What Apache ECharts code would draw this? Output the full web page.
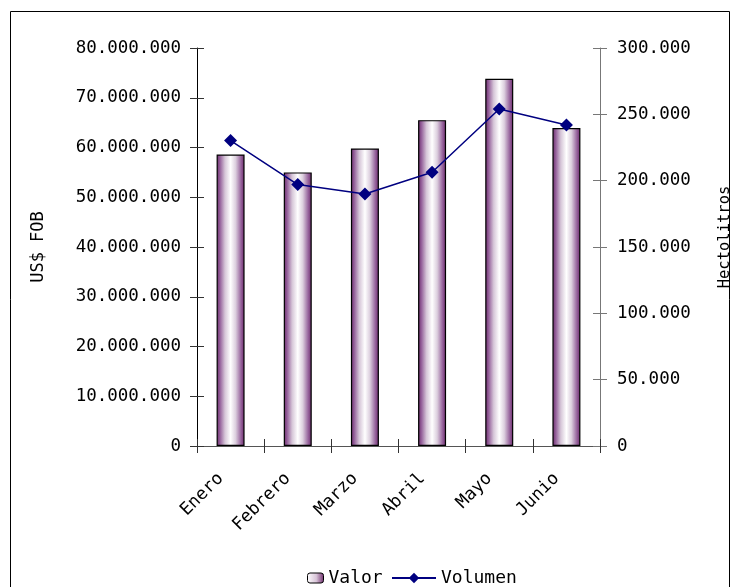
<!DOCTYPE html>
<html><head><meta charset="utf-8">
<script src="https://cdn.jsdelivr.net/npm/echarts@6/dist/echarts.min.js"></script>
<style>html,body{margin:0;padding:0;background:#fff}#c{width:734px;height:587px}</style>
</head><body><div id="c"></div>
<script>
var categories = ['Enero','Febrero','Marzo','Abril','Mayo','Junio'];
var valorUSD = [58600000, 55000000, 59800000, 65500000, 73800000, 63900000];
var volumenHl = [230200, 197100, 190000, 206400, 254000, 241900];
var leftTicks = {min:0, max:80000000, interval:10000000};
var rightTicks = {min:0, max:300000, interval:50000};

function fmt(v){ return String(v).replace(/\B(?=(\d{3})+(?!\d))/g,'.'); }
var FONT = 'DejaVu Sans Mono';
var chart = echarts.init(document.getElementById('c'));
var barGrad = new echarts.graphic.LinearGradient(0,0,1,0,[
  {offset:0,color:'#6a2868'},{offset:0.12,color:'#94609a'},{offset:0.3,color:'#d6c6d8'},{offset:0.5,color:'#ffffff'},
  {offset:0.68,color:'#dccfde'},{offset:0.88,color:'#94609a'},{offset:1,color:'#6a2868'}]);
var legGrad = new echarts.graphic.LinearGradient(0,0,1,0,[
  {offset:0,color:'#ffffff'},{offset:0.55,color:'#d8c4d8'},{offset:1,color:'#6a2868'}]);

chart.setOption({
  animation:false,
  textStyle:{fontFamily:FONT,color:'#000'},
  graphic:[{type:'rect',shape:{x:10.5,y:11.5,width:719,height:620},style:{fill:null,stroke:'#000',lineWidth:1},silent:true,z:-10}],
  grid:{left:197,right:134,top:48,bottom:141,outerBoundsMode:'none',containLabel:false},
  legend:[
    {left:302,top:564,itemWidth:16,itemHeight:10,itemGap:3,data:[{name:'Valor',itemStyle:{color:legGrad,borderColor:'#000',borderWidth:1}}],textStyle:{fontFamily:FONT,fontSize:18,color:'#000'}},
    {left:386,top:564,itemWidth:44,itemHeight:13,itemGap:3,data:['Volumen'],textStyle:{fontFamily:FONT,fontSize:18,color:'#000'}}
  ],
  xAxis:[
    {type:'category',data:categories,boundaryGap:true,
     axisLine:{lineStyle:{color:'#555',width:1}},
     axisTick:{show:true,length:7,lineStyle:{color:'#333'}},
     axisLabel:{rotate:45,fontFamily:FONT,fontSize:17.5,color:'#000',margin:20,padding:[0,14,0,0]},
     splitLine:{show:false}},
    {type:'category',data:categories,position:'bottom',boundaryGap:true,
     axisLine:{show:false},axisTick:{show:true,inside:true,length:7,lineStyle:{color:'#333'}},
     axisLabel:{show:false},splitLine:{show:false}}
  ],
  yAxis:[
    {type:'value',position:'left',min:leftTicks.min,max:leftTicks.max,interval:leftTicks.interval,
     name:'US$ FOB',nameLocation:'middle',nameGap:150,nameRotate:90,
     nameTextStyle:{fontFamily:FONT,fontSize:17,color:'#000'},
     axisLine:{show:true,lineStyle:{color:'#000'}},
     axisTick:{show:true,length:7,lineStyle:{color:'#333'}},
     axisLabel:{formatter:fmt,fontFamily:FONT,fontSize:17.5,color:'#000',margin:16},
     splitLine:{show:false}},
    {type:'value',position:'right',min:rightTicks.min,max:rightTicks.max,interval:rightTicks.interval,
     name:'Hectolitros',nameLocation:'middle',nameGap:117,nameRotate:90,
     nameTextStyle:{fontFamily:FONT,fontSize:15.5,color:'#000',padding:[0,0,0,20]},
     axisLine:{show:true,lineStyle:{color:'#777'}},
     axisTick:{show:true,length:7,lineStyle:{color:'#777'}},
     axisLabel:{formatter:fmt,fontFamily:FONT,fontSize:17.5,color:'#000',margin:17},
     splitLine:{show:false}},
    {type:'value',position:'left',min:leftTicks.min,max:leftTicks.max,interval:leftTicks.interval,
     axisLine:{show:false},axisTick:{show:true,inside:true,length:7,lineStyle:{color:'#333'}},
     axisLabel:{show:false},splitLine:{show:false}},
    {type:'value',position:'right',min:rightTicks.min,max:rightTicks.max,interval:rightTicks.interval,
     axisLine:{show:false},axisTick:{show:true,inside:true,length:7,lineStyle:{color:'#777'}},
     axisLabel:{show:false},splitLine:{show:false}}
  ],
  series:[
    {name:'Valor',type:'bar',xAxisIndex:0,yAxisIndex:0,data:valorUSD,barWidth:28,
     itemStyle:{color:barGrad,borderColor:'#000',borderWidth:1.2}},
    {name:'Volumen',type:'line',xAxisIndex:0,yAxisIndex:1,data:volumenHl,
     symbol:'diamond',symbolSize:13,
     lineStyle:{color:'#000080',width:1.5},itemStyle:{color:'#000080'}}
  ]
});
</script></body></html>
